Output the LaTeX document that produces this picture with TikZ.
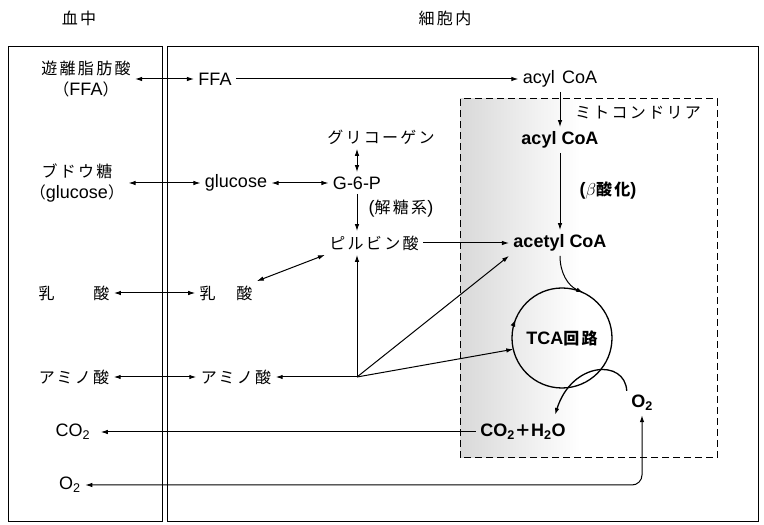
\documentclass[tikz,border=0pt]{standalone}
\usepackage{fontspec}
\setmainfont{Liberation Sans}
\newfontfamily\jp{Noto Sans CJK JP}[LetterSpace=14,Scale=0.89]
\usetikzlibrary{arrows.meta,decorations.markings}

\begin{document}
\begin{tikzpicture}[x=1pt,y=1pt,line width=1pt,
	every node/.style={inner sep=4pt,font=\fontsize{18}{21}\selectfont},
	boldtext/.style={font=\fontsize{18}{21}\selectfont\bfseries},
	>={Latex[length=7pt,width=4.5pt]}]
	\useasboundingbox (0,0) rectangle (764,525);
	\shade[left color=gray!30,right color=white] (460,67) rectangle (580,426);
	\draw (8,3) rectangle (162,478);
	\draw (167,3) rectangle (758,478);
	\draw[dash pattern=on 7pt off 4pt] (460,67) rectangle (717,426);
	\node at (79,507) (blood) {\jp 血中};
	\node at (445,507) (cell) {\jp 細胞内};
	\node[align=center] at (86,446) (A1) {{\jp 遊離脂肪酸}\\{\jp （}FFA{\jp ）}};
	\node at (215,446) (A2) {FFA};
	\node at (560,446) (A3) {acyl\hspace{0.4em}CoA};
	\node at (638,412) (mito) {\jp ミトコンドリア};
	\node[boldtext] at (560,385) (A4) {acyl CoA};
	\node[boldtext] at (608,335) (beta) {({\jp $\beta$酸化})};
	\node[boldtext] at (560,282) (B6) {acetyl CoA};
	\node at (381,388) (B1) {\jp グリコーゲン};
	\node at (357,342) (B2) {G-6-P};
	\node[align=center] at (77,342) (C1) {{\jp ブドウ糖}\\{\jp （}glucose{\jp ）}};
	\node at (236,342) (C2) {glucose};
	\node at (401,316) (glyco) {({\jp 解糖系})};
	\node at (374,282) (B5) {\jp ピルビン酸};
	\node at (74,232) (D1) {\jp 乳　　酸};
	\node at (226,232) (D2) {\jp 乳　酸};
	\node at (74,148) (E1) {\jp アミノ酸};
	\node at (236,148) (E2) {\jp アミノ酸};
	\coordinate (br) at (357,148);
	\node[circle,minimum size=100pt,inner sep=0pt,outer sep=0pt,boldtext] at (562,187) (tca) {TCA{\jp 回路}};
	\node[boldtext] at (642,122) (o2c) {O\textsubscript{2}};
	\node[boldtext] at (523,93) (co2c) {CO\textsubscript{2}{\jp ＋}H\textsubscript{2}O};
	\node at (73,93) (co2b) {CO\textsubscript{2}};
	\node at (70,40) (o2b) {O\textsubscript{2}};
	\coordinate (h2o) at (555,110);
	\draw[line width=1.3pt,postaction={decorate},decoration={markings,mark=at position 0.44 with {\arrowreversed{Latex[length=7pt,width=5pt]}}}] (tca.center) circle[radius=50];
	\draw[<->] (A1) -- (A2);
	\draw[->] (A2) -- (A3);
	\draw[->] (A3) -- (A4);
	\draw[->] (A4) -- (B6);
	\draw[<->] (B1.south -| B2) -- (B2);
	\draw[<->] (C2) -- (B2);
	\draw[<->] (C1) -- (C2);
	\draw[->] (B2) -- (B2 |- B5.north);
	\draw[->] (B5) -- (B6);
	\draw[<->] (D2.north east) -- (B5.south west);
	\draw[<->] (D1) -- (D2);
	\draw[<->] (E1) -- (E2);
	\draw[->] (br) -- (E2);
	\draw[->] (br) -- (br |- B5.south);
	\draw[->] (br) -- (B6.south west);
	\draw[->] (br) -- (tca.193);
	\draw[->] (B6.south) to[out=-90,in=155] (tca.65);
	\draw[line width=1.3pt,->] (o2c.north west) .. controls (625,166) and (572,164) .. (h2o);
	\draw[->,shorten >=6pt] (co2c) -- (co2b);
	\draw[<->,rounded corners=10pt] (o2b) -| (o2c);
\end{tikzpicture}
\end{document}
